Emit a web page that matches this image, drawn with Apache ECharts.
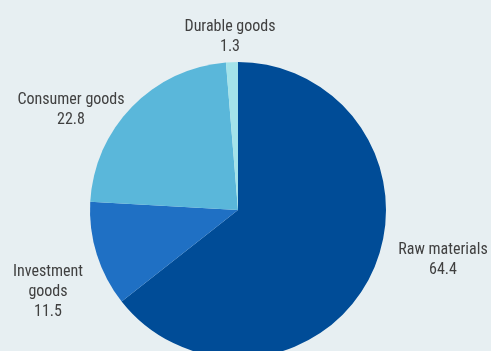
<!DOCTYPE html>
<html><head><meta charset="utf-8">
<script src="https://cdn.jsdelivr.net/npm/echarts@6/dist/echarts.min.js"></script>
<style>html,body{margin:0;padding:0;background:#E7EFF2;}#c{width:491px;height:351px;}</style>
</head><body><div id="c"></div>
<script>
const categories = ['Raw materials', 'Investment goods', 'Consumer goods', 'Durable goods'];
const labelNames = ['Raw materials', 'Investment\ngoods', 'Consumer goods', 'Durable goods'];
const values = [64.4, 11.5, 22.8, 1.3];
const colors = ['#004C97', '#1F70C4', '#5AB7DA', '#A3E3EA'];
const labelAnchors = [[443, 260], [48, 292], [71, 110], [230, 37]];

const chart = echarts.init(document.getElementById('c'), null, {renderer: 'canvas'});
chart.setOption({
  backgroundColor: '#E7EFF2',
  animation: false,
  series: [{
    type: 'pie',
    center: [238, 210],
    radius: [0, 148],
    startAngle: 90,
    clockwise: true,
    avoidLabelOverlap: false,
    data: categories.map((c, i) => ({name: c, value: values[i], itemStyle: {color: colors[i]}})),
    label: {
      show: true,
      position: 'outside',
      formatter: p => labelNames[p.dataIndex] + '\n' + p.value,
      fontFamily: '"Liberation Sans Narrow", "Arial Narrow", "Roboto Condensed", sans-serif',
      fontSize: 16,
      lineHeight: 20,
      color: '#404040',
      align: 'center'
    },
    labelLine: {show: false},
    labelLayout: p => ({x: labelAnchors[p.dataIndex][0], y: labelAnchors[p.dataIndex][1], align: 'center', verticalAlign: 'middle'})
  }]
});
</script></body></html>
